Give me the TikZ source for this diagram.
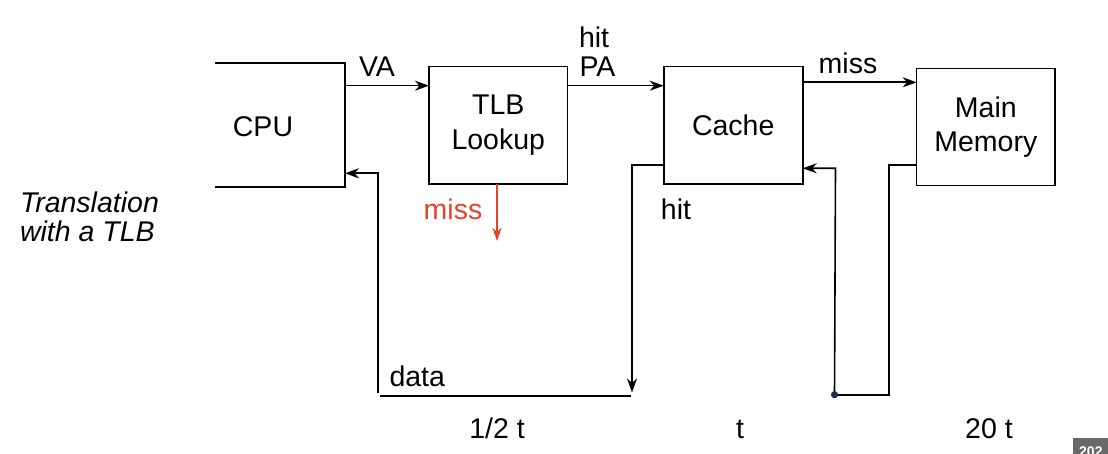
\documentclass[tikz,border=0pt]{standalone}
\usepackage{fontspec}
\setmainfont{Liberation Sans}
\usetikzlibrary{arrows.meta,calc}
\definecolor{missred}{RGB}{232,64,42}
\definecolor{dotblue}{RGB}{30,45,75}
\definecolor{tagGray}{RGB}{105,105,105}
\begin{document}
\begin{tikzpicture}[x=1pt,y=-1pt,
  txt/.style={font=\fontsize{28.5}{34.5}\selectfont, inner sep=0pt, outer sep=0pt},
  blk/.style={draw, line width=1.6pt, inner sep=0pt, outer sep=0pt, align=center,
              font=\fontsize{28.5}{34.5}\selectfont},
  wire/.style={line width=1.6pt},
  arr/.style={wire, -{Stealth[length=14pt,width=10pt,inset=4.5pt]}},
]
\useasboundingbox (0,0) rectangle (1108,454);

% blocks
\node[inner sep=0pt, outer sep=0pt, minimum width=130pt, minimum height=124pt] (cpu) at (280,125) {};
\draw[line width=1.6pt] (cpu.north west) -- (cpu.north east) -- (cpu.south east) -- (cpu.south west);
\node[txt, anchor=base] (cpulbl) at (263,136.7) {CPU};

\node[blk, minimum width=138.7pt, minimum height=117.3pt] (tlb) at (498.3,125.3) {TLB\\Lookup};
\node[blk, minimum width=139pt, minimum height=117.3pt] (cache) at (733.2,125.3) {Cache};
\node[blk, minimum width=138.3pt, minimum height=117pt] (mem) at (985.8,127.2) {Main\\Memory};

% helper coordinates
\coordinate (vaY) at (0,85.7);
\coordinate (missY) at (0,82.3);
\coordinate (hitY) at (0,165);
\coordinate (memY) at (0,165.3);
\coordinate (retY) at (0,168.3);
\coordinate (cpuY) at (0,173.3);

% forward connectors
\draw[arr] (cpu.east |- vaY) -- (tlb.west |- vaY);
\draw[arr] (tlb.east |- vaY) -- (cache.west |- vaY);
\draw[arr] (cache.east |- missY) -- (mem.west |- missY);

% TLB miss
\coordinate (tlbmiss) at (497,184);
\coordinate (missend) at (497,241);
\draw[wire, missred, -{Stealth[length=13pt,width=9pt,inset=4pt]}] (tlbmiss) -- (missend);

% cache hit path
\coordinate (hitcorner) at (632,165);
\coordinate (hitend) at (632,392.5);
\draw[arr] (cache.west |- hitY) -- (hitcorner) -- (hitend);

% data line
\coordinate (datal) at (380,396);
\coordinate (datar) at (631,396);
\draw[wire] (datal) -- (datar);

% return to CPU
\coordinate (cpuretbot) at (377.7,392.7);
\coordinate (cpuretcorner) at (377.7,173.3);
\draw[arr] (cpuretbot) -- (cpuretcorner) -- (cpu.east |- cpuY);

% memory return path
\coordinate (memcorner) at (889,165.3);
\coordinate (membot) at (889,394.7);
\coordinate (dot) at (834.5,394.7);
\draw[wire] (mem.west |- memY) -- (memcorner) -- (membot) -- (dot);
\coordinate (retcorner) at (835.5,168.3);
\draw[arr] (dot) -- (retcorner) -- (cache.east |- retY);
\fill[dotblue] (dot) circle (3.6pt);

% labels
\node[txt, anchor=base] (va) at (377,77) {VA};
\node[txt, anchor=base west, align=left] (hitpa) at (579,48) {hit};
\node[txt, anchor=base west] (pa) at (579.5,77) {PA};
\node[txt, anchor=base] (missa) at (848,74) {miss};
\node[txt, anchor=base, text=missred] (missb) at (453,220) {miss};
\node[txt, anchor=base] (hitb) at (676,219.3) {hit};
\node[txt, anchor=base west] (data) at (389.5,386.7) {data};
\node[txt, anchor=base] (half) at (497,438) {1/2 t};
\node[txt, anchor=base] (tt) at (740,438) {t};
\node[txt, anchor=base] (twenty) at (989,438) {20 t};
\node[txt, anchor=base west, font=\fontsize{28.5}{29}\selectfont\itshape] (tr1) at (20,212.7) {Translation};
\node[txt, anchor=base west, font=\fontsize{28.5}{29}\selectfont\itshape] (tr2) at (20,242) {with a TLB};

% corner tag
\fill[tagGray] (1073,438) rectangle (1110,456);
\node[anchor=base west, inner sep=0pt, text=white, font=\fontsize{14}{14}\selectfont\bfseries] (tag) at (1079,456) {202};
\end{tikzpicture}
\end{document}
